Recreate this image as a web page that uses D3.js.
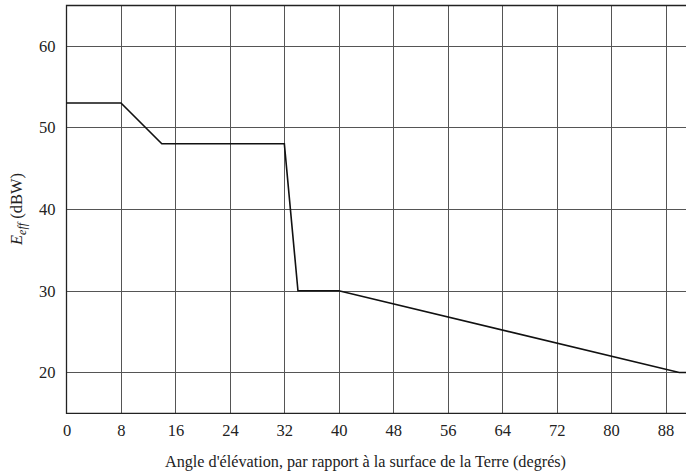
<!DOCTYPE html>
<html><head><meta charset="utf-8">
<script src="https://cdn.jsdelivr.net/npm/d3@7"></script>
<style>body{margin:0;background:#fff}svg{display:block}text{font-family:"Liberation Serif","Times New Roman",serif;fill:#222}</style>
</head><body>
<svg id="c" width="686" height="475"></svg>
<script>
const angles = [0, 8, 14, 32, 34, 40, 90, 91];
const eeff = [53, 53, 48, 48, 30, 30, 20, 20];
const xTicks = [0, 8, 16, 24, 32, 40, 48, 56, 64, 72, 80, 88];
const yTicks = [20, 30, 40, 50, 60];
const xTitle = "Angle d'élévation, par rapport à la surface de la Terre (degrés)";

const svg = d3.select("#c");
const L = 66.5, R = 686, T = 5, B = 413.3;
const x = d3.scaleLinear().domain([0, 91]).range([L, R]);
const y = d3.scaleLinear().domain([15, 65]).range([B, T]);

// grid
svg.append("g").selectAll("line").data(xTicks.slice(1)).join("line")
  .attr("x1", d => Math.round(x(d)) + 0.5).attr("x2", d => Math.round(x(d)) + 0.5)
  .attr("y1", T).attr("y2", B).attr("stroke", "#555").attr("stroke-width", 1);
svg.append("g").selectAll("line").data(yTicks).join("line")
  .attr("y1", d => Math.round(y(d)) + 0.5).attr("y2", d => Math.round(y(d)) + 0.5)
  .attr("x1", L).attr("x2", R).attr("stroke", "#555").attr("stroke-width", 1);

// frame
svg.append("path").attr("d", `M${R},${T+0.5}H${L}V${B}H${R}`).attr("fill", "none")
  .attr("stroke", "#222").attr("stroke-width", 1.3);

// axes labels via d3 axes (no lines)
const xAxis = svg.append("g").attr("transform", `translate(0,${B})`)
  .call(d3.axisBottom(x).tickValues(xTicks).tickSize(0).tickPadding(11));
xAxis.select(".domain").remove();
xAxis.selectAll("text").attr("font-size", 16.5).attr("font-family", "Liberation Serif").attr("fill", "#222");
const yAxis = svg.append("g").attr("transform", `translate(${L},0)`)
  .call(d3.axisLeft(y).tickValues(yTicks).tickSize(0).tickPadding(11));
yAxis.select(".domain").remove();
yAxis.selectAll("text").attr("font-size", 16.5).attr("font-family", "Liberation Serif").attr("fill", "#222");

// data line
svg.append("path").datum(angles.map((a, i) => [a, eeff[i]]))
  .attr("d", d3.line().x(d => x(d[0])).y(d => y(d[1])))
  .attr("fill", "none").attr("stroke", "#111").attr("stroke-width", 1.6);

// titles
svg.append("text").attr("x", 365.5).attr("y", 466.5).attr("text-anchor", "middle")
  .attr("font-size", 16.2).text(xTitle);
const yt = svg.append("text").attr("transform", "translate(22,209) rotate(-90)")
  .attr("text-anchor", "middle").attr("font-size", 16.5);
yt.append("tspan").attr("font-style", "italic").text("E");
yt.append("tspan").attr("font-style", "italic").attr("font-size", 12).attr("dy", 4).text("eff");
yt.append("tspan").attr("dy", -4).text(" (dBW)");
</script>
</body></html>
